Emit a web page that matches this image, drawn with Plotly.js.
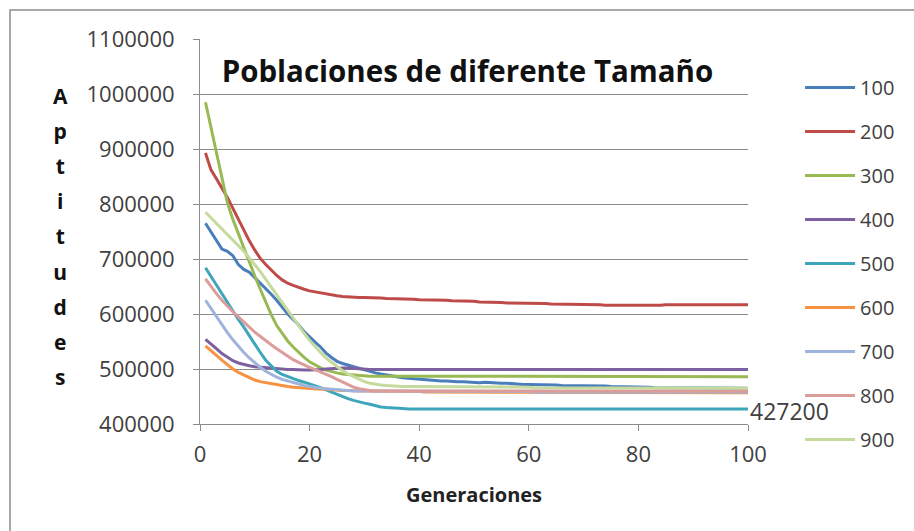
<!DOCTYPE html>
<html>
<head>
<meta charset="utf-8">
<script src="https://cdn.plot.ly/plotly-3.0.1.min.js"></script>
<style>
  html, body { margin: 0; padding: 0; background: #ffffff; }
  #chart { width: 914px; height: 531px; }
</style>
</head>
<body>
<div id="chart"></div>
<script>
// Generaciones (x)
const generaciones = [
  1,2,3,4,5,6,7,8,9,10,11,12,13,14,15,16,17,18,19,20,
  21,22,23,24,25,26,27,28,29,30,31,32,33,34,35,36,37,38,39,40,
  41,42,43,44,45,46,47,48,49,50,51,52,53,54,55,56,57,58,59,60,
  61,62,63,64,65,66,67,68,69,70,71,72,73,74,75,76,77,78,79,80,
  81,82,83,84,85,86,87,88,89,90,91,92,93,94,95,96,97,98,99,100
];

// Aptitud por generación para cada tamaño de población
const pob100 = [
  765000,750000,733000,718000,714000,706000,690000,681000,676000,666000,
  656000,647000,636000,625000,612000,600000,590000,580000,568000,558000,
  549000,540000,529000,521000,514000,510000,507000,504000,501000,498000,
  495000,493000,491000,489000,487000,486000,484000,483000,482000,481000,
  480000,480000,479000,478000,478000,477000,477000,477000,476000,476000,
  475000,476000,475000,474000,474000,474000,473000,473000,472000,472000,
  472000,471000,471000,471000,471000,470000,470000,470000,470000,469000,
  470000,469000,469000,469000,468000,468000,468000,468000,467000,467000,
  467000,467000,466000,466000,466000,466000,466000,466000,466000,466000,
  465000,465000,465000,465000,465000,465000,465000,465000,465000,465000
];
const pob200 = [
  893000,862000,846000,830000,812000,792000,772000,752000,733000,716000,
  701000,690000,679000,670000,662000,656000,652000,648000,645000,642000,
  640000,638000,636000,634000,633000,632000,631000,631000,630000,630000,
  630000,629000,629000,628000,628000,628000,627000,627000,627000,626000,
  626000,626000,625000,625000,625000,624000,624000,623000,623000,623000,
  622000,622000,621000,621000,621000,620000,620000,620000,620000,619000,
  619000,619000,619000,618000,618000,618000,618000,618000,617000,617000,
  617000,617000,617000,616000,616000,616000,616000,615000,615000,615000,
  615000,615000,616000,616000,617000,617000,617000,617000,617000,617000,
  617000,617000,617000,617000,617000,617000,617000,617000,617000,617000
];
const pob300 = [
  985000,940000,893000,846000,802000,772000,746000,719000,694000,669000,
  645000,621000,599000,579000,564000,551000,540000,530000,521000,513000,
  507000,502000,498000,495000,493000,491000,490000,489000,488000,488000,
  487000,487000,487000,487000,487000,487000,487000,487000,487000,487000,
  487000,487000,487000,487000,487000,487000,487000,487000,487000,487000,
  487000,487000,487000,487000,487000,487000,487000,487000,487000,487000,
  486000,486000,486000,486000,486000,486000,486000,486000,486000,486000,
  486000,486000,486000,486000,486000,486000,486000,486000,486000,486000,
  486000,486000,486000,486000,486000,486000,486000,486000,486000,486000,
  486000,486000,486000,486000,486000,486000,486000,486000,486000,486000
];
const pob400 = [
  554000,546000,537000,528000,521000,515000,511000,508000,506000,504000,
  503000,502000,502000,501000,500000,499000,499000,498000,498000,498000,
  498000,499000,500000,501000,502000,502000,502000,501000,500000,500000,
  499000,499000,499000,499000,499000,499000,499000,499000,499000,499000,
  499000,499000,499000,499000,499000,499000,499000,499000,499000,499000,
  499000,499000,499000,499000,499000,499000,499000,499000,499000,499000,
  499000,499000,499000,499000,499000,499000,499000,499000,499000,499000,
  499000,499000,499000,499000,499000,499000,499000,499000,499000,499000,
  499000,499000,499000,499000,499000,499000,499000,499000,499000,499000,
  499000,499000,499000,499000,499000,499000,499000,499000,499000,499000
];
const pob500 = [
  684000,668000,652000,636000,620000,605000,590000,576000,560000,545000,
  530000,516000,505000,496000,490000,486000,482000,479000,476000,473000,
  469000,466000,462000,458000,453000,449000,446000,443000,440000,438000,
  436000,433000,431000,430000,429000,428000,428000,427500,427200,427200,
  427200,427200,427200,427200,427200,427200,427200,427200,427200,427200,
  427200,427200,427200,427200,427200,427200,427200,427200,427200,427200,
  427200,427200,427200,427200,427200,427200,427200,427200,427200,427200,
  427200,427200,427200,427200,427200,427200,427200,427200,427200,427200,
  427200,427200,427200,427200,427200,427200,427200,427200,427200,427200,
  427200,427200,427200,427200,427200,427200,427200,427200,427200,427200
];
const pob600 = [
  542000,533000,524000,516000,508000,500000,494000,489000,484000,480000,
  477000,475000,473000,471000,469000,468000,467000,466000,465000,464000,
  464000,463000,463000,462000,462000,461000,461000,460000,460000,460000,
  460000,460000,459000,459000,459000,459000,459000,459000,459000,459000,
  458000,458000,458000,458000,458000,458000,458000,458000,458000,458000,
  458000,458000,458000,458000,458000,458000,458000,458000,458000,458000,
  458000,458000,458000,458000,458000,458000,458000,458000,458000,458000,
  457000,457000,457000,457000,457000,457000,457000,457000,457000,457000,
  457000,457000,457000,457000,457000,457000,457000,457000,457000,457000,
  457000,457000,457000,457000,457000,457000,457000,457000,457000,457000
];
const pob700 = [
  625000,610000,595000,580000,566000,553000,541000,530000,520000,511000,
  503000,496000,490000,485000,481000,478000,475000,472000,470000,468000,
  466000,465000,464000,463000,462000,461000,461000,460000,460000,460000,
  459000,459000,459000,459000,459000,459000,459000,459000,459000,459000,
  459000,459000,459000,459000,459000,459000,459000,459000,459000,459000,
  459000,459000,459000,459000,459000,459000,459000,459000,459000,459000,
  458000,458000,458000,458000,458000,458000,458000,458000,458000,458000,
  458000,458000,458000,458000,458000,458000,458000,458000,458000,458000,
  458000,458000,458000,458000,458000,458000,458000,458000,458000,458000,
  458000,458000,458000,458000,458000,458000,458000,458000,458000,458000
];
const pob800 = [
  664000,650000,637000,625000,614000,604000,595000,585000,576000,567000,
  559000,551000,544000,537000,530000,523000,517000,512000,507000,503000,
  499000,495000,491000,486000,481000,476000,472000,467000,464000,462000,
  461000,460000,460000,460000,460000,460000,460000,460000,460000,460000,
  460000,460000,460000,460000,460000,460000,460000,460000,460000,460000,
  460000,460000,460000,460000,460000,460000,460000,460000,460000,460000,
  460000,460000,460000,460000,460000,460000,460000,460000,460000,460000,
  460000,460000,460000,460000,460000,460000,460000,460000,460000,460000,
  460000,460000,460000,460000,460000,460000,460000,460000,460000,460000,
  460000,460000,460000,460000,460000,460000,460000,460000,460000,460000
];
const pob900 = [
  785000,775000,764000,754000,745000,735000,724000,714000,702000,690000,
  677000,663000,649000,635000,620000,605000,591000,578000,565000,552000,
  540000,530000,520000,512000,504000,497000,491000,486000,481000,477000,
  474000,472000,471000,470000,469000,469000,468000,468000,468000,467000,
  467000,467000,467000,467000,467000,467000,467000,467000,467000,467000,
  467000,467000,467000,467000,467000,467000,467000,467000,467000,467000,
  466000,466000,466000,466000,466000,466000,466000,466000,466000,466000,
  466000,466000,466000,466000,466000,466000,466000,466000,466000,466000,
  465000,465000,465000,465000,465000,465000,465000,465000,465000,465000,
  465000,465000,465000,465000,465000,465000,465000,465000,465000,465000
];

const nombres = ['100','200','300','400','500','600','700','800','900'];
const series = [pob100, pob200, pob300, pob400, pob500, pob600, pob700, pob800, pob900];
const colores = ['#4a7ebb','#be4b48','#98b954','#7d60a0','#3ea6bb','#f69240','#9fb4dc','#dc9c9a','#c6da9e'];

const FONT = '"Open Sans", "Noto Sans", sans-serif';
const TEXT = '#404040';
const GRIS = '#8a8a8a';

const traces = series.map((ys, i) => ({
  type: 'scatter',
  mode: 'lines',
  name: nombres[i],
  legendgroup: 'g' + nombres[i],
  x: generaciones,
  y: ys,
  line: { color: colores[i], width: 3 },
  hoverinfo: 'skip'
}));

// Etiqueta de valor del último punto de la población 500
const ultimo500 = pob500[pob500.length - 1];
const ultimaGen = generaciones[generaciones.length - 1];

// Título del eje Y escrito letra a letra en vertical
const letrasY = 'Aptitudes'.split('').map(c => '<span style="font-size:21px">' + c + '</span>').join('<br>');

const layout = {
  width: 914,
  height: 531,
  margin: { l: 200, r: 166, t: 39, b: 107 },
  paper_bgcolor: '#ffffff',
  plot_bgcolor: '#ffffff',
  font: { family: FONT, color: TEXT, size: 20 },
  title: {
    text: 'Poblaciones de diferente Tamaño',
    font: { family: FONT, size: 29.5, weight: 'bold', color: '#111111' },
    xref: 'paper', x: 0.488, xanchor: 'center',
    yref: 'container', y: 1 - 72 / 531, yanchor: 'middle'
  },
  xaxis: {
    range: [0, 100],
    tick0: 0, dtick: 20,
    showgrid: false,
    zeroline: false,
    showline: true, linecolor: GRIS, linewidth: 1,
    ticks: 'outside', ticklen: 6, tickcolor: GRIS,
    tickfont: { family: FONT, size: 22, color: TEXT },
    ticklabelstandoff: 5,
    title: { text: 'Generaciones', font: { family: FONT, size: 20, weight: 'bold', color: '#222222' }, standoff: 20 }
  },
  yaxis: {
    range: [400000, 1100000],
    tick0: 400000, dtick: 100000,
    tickformat: 'd',
    showgrid: true, gridcolor: GRIS, gridwidth: 1,
    zeroline: false,
    showline: true, linecolor: GRIS, linewidth: 1,
    ticks: 'outside', ticklen: 6, tickcolor: GRIS,
    tickfont: { family: FONT, size: 22, color: TEXT },
    ticklabelstandoff: 14
  },
  showlegend: true,
  legend: {
    x: 1.095, xanchor: 'left',
    y: 0.925, yanchor: 'top',
    traceorder: 'grouped',
    tracegroupgap: 15,
    itemwidth: 50,
    maxheight: 531,
    font: { family: FONT, size: 20, color: TEXT },
    bgcolor: 'rgba(0,0,0,0)'
  },
  annotations: [
    {
      xref: 'x', yref: 'y', x: ultimaGen, y: ultimo500,
      text: String(ultimo500), showarrow: false,
      xanchor: 'left', yanchor: 'middle', xshift: 0, yshift: -2,
      font: { family: FONT, size: 23, color: TEXT }
    },
    {
      xref: 'paper', yref: 'paper', x: (60 - 200) / 548, y: (424 - 237) / 385,
      text: '<b>' + letrasY + '</b>', showarrow: false,
      xanchor: 'center', yanchor: 'middle', align: 'center',
      font: { family: FONT, size: 27, color: '#111111' }
    }
  ],
  shapes: [
    {
      type: 'rect', xref: 'paper', yref: 'paper',
      x0: (10 - 200) / 548, x1: 1.6, y0: -0.6, y1: (424 - 10) / 385,
      line: { color: '#8c8c8c', width: 1.5 }, fillcolor: 'rgba(0,0,0,0)', layer: 'below'
    }
  ]
};

Plotly.newPlot('chart', traces, layout, { staticPlot: true, displayModeBar: false });
</script>
</body>
</html>
